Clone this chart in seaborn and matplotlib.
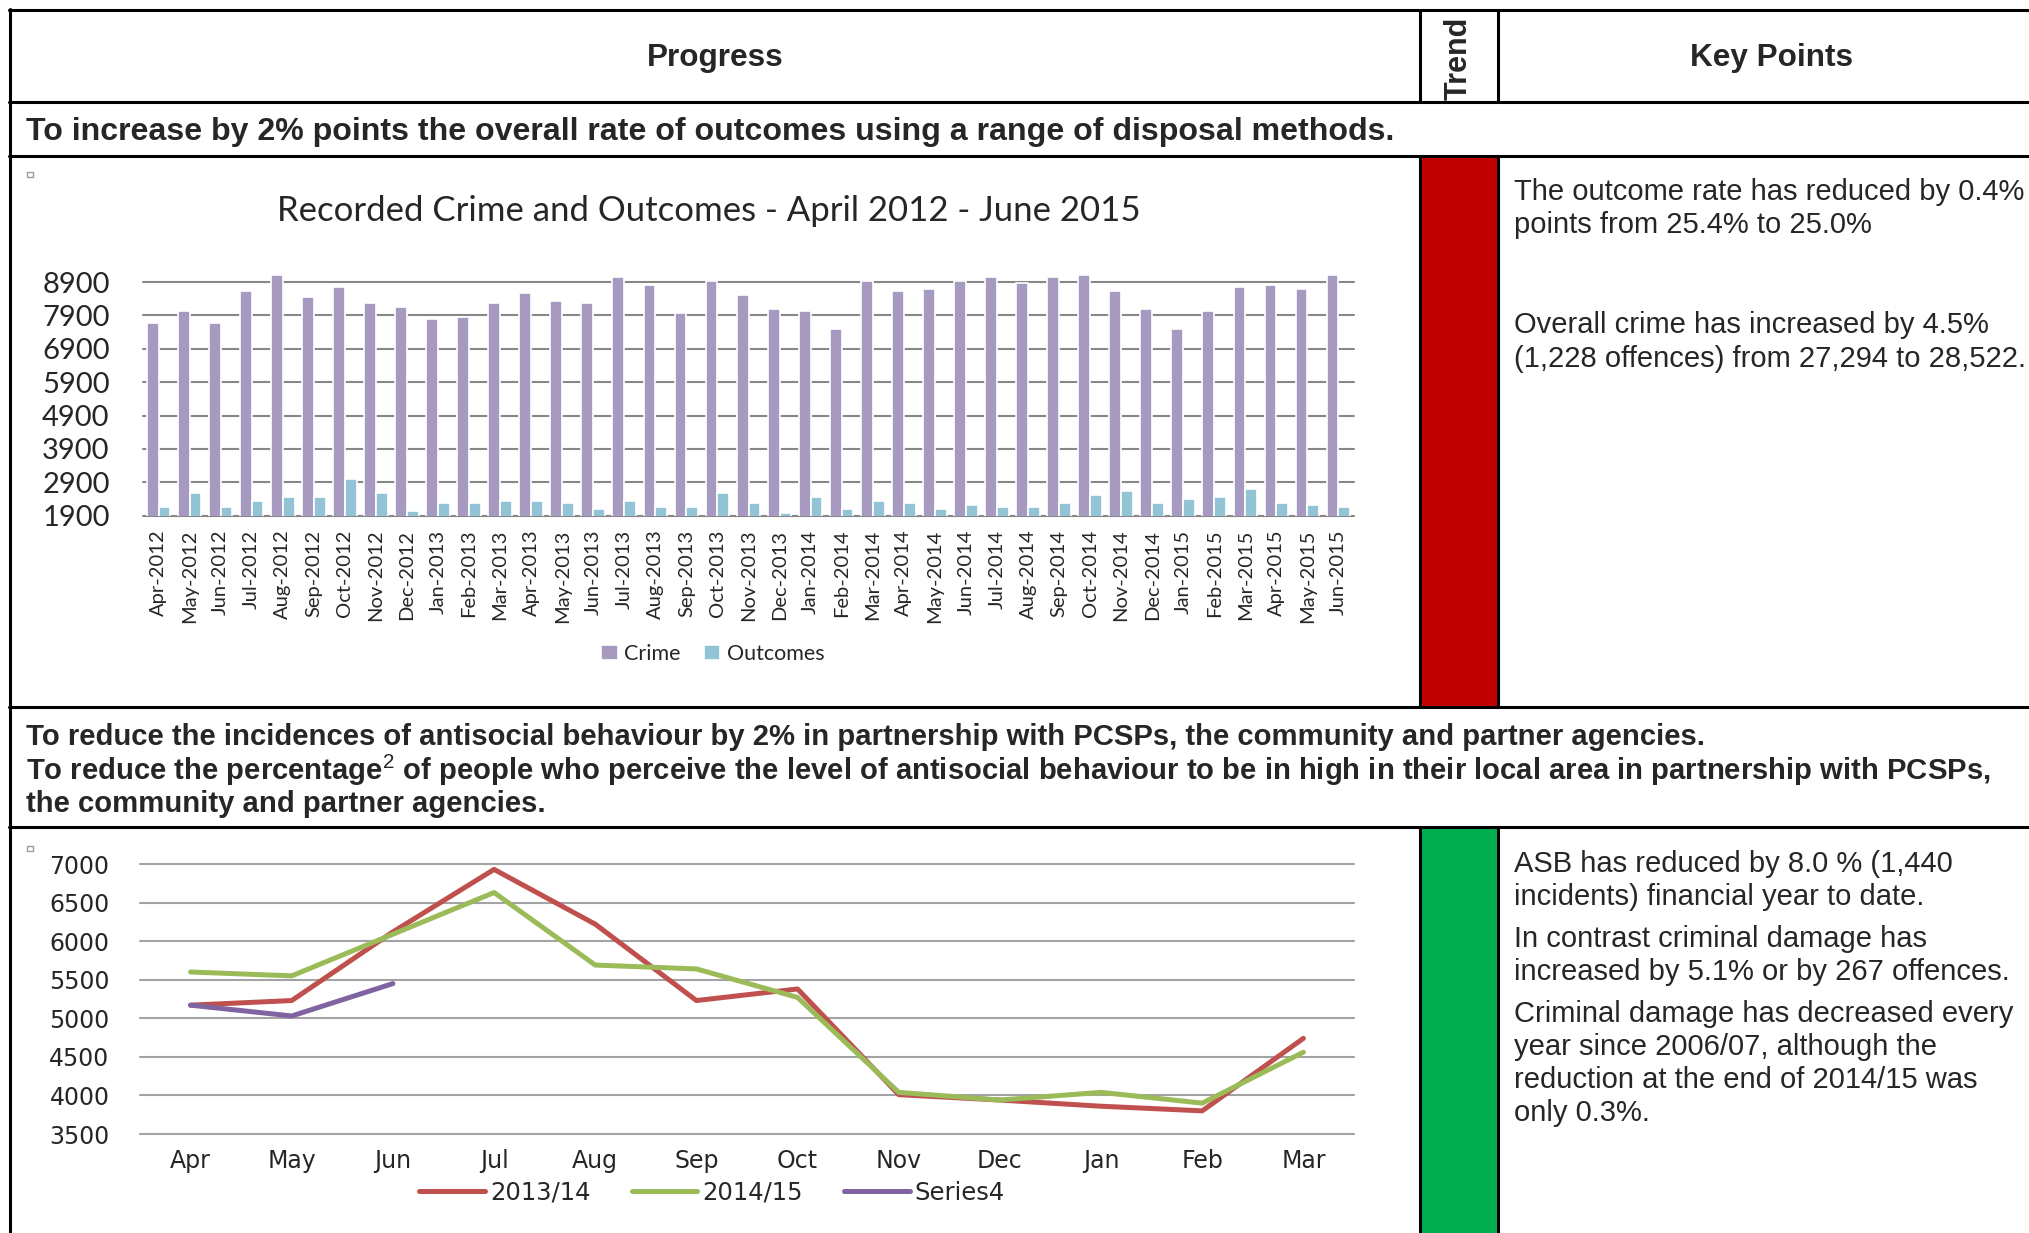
import numpy as np
import pandas as pd
import matplotlib
matplotlib.use('Agg')
import matplotlib.pyplot as plt
from matplotlib.lines import Line2D
from matplotlib.patches import Rectangle
import seaborn as sns

# --- data ------------------------------------------------------------------
months = ['Apr-2012', 'May-2012', 'Jun-2012', 'Jul-2012', 'Aug-2012', 'Sep-2012',
          'Oct-2012', 'Nov-2012', 'Dec-2012', 'Jan-2013', 'Feb-2013', 'Mar-2013',
          'Apr-2013', 'May-2013', 'Jun-2013', 'Jul-2013', 'Aug-2013', 'Sep-2013',
          'Oct-2013', 'Nov-2013', 'Dec-2013', 'Jan-2014', 'Feb-2014', 'Mar-2014',
          'Apr-2014', 'May-2014', 'Jun-2014', 'Jul-2014', 'Aug-2014', 'Sep-2014',
          'Oct-2014', 'Nov-2014', 'Dec-2014', 'Jan-2015', 'Feb-2015', 'Mar-2015',
          'Apr-2015', 'May-2015', 'Jun-2015']
crime = [7660, 8020, 7660, 8620, 9100, 8440, 8740, 8260, 8140, 7780, 7860, 8260,
         8560, 8320, 8260, 9040, 8800, 7960, 8920, 8500, 8080, 8020, 7480, 8920,
         8620, 8680, 8920, 9040, 8860, 9040, 9100, 8620, 8080, 7480, 8020, 8740,
         8800, 8680, 9100]
outcomes = [2170, 2590, 2170, 2350, 2470, 2470, 3010, 2590, 2050, 2290, 2290, 2350,
            2350, 2290, 2110, 2350, 2170, 2170, 2590, 2290, 1990, 2470, 2110, 2350,
            2290, 2110, 2230, 2170, 2170, 2290, 2530, 2650, 2290, 2410, 2470, 2710,
            2290, 2230, 2170]
bar_ticks = [1900, 2900, 3900, 4900, 5900, 6900, 7900, 8900]

fy_months = ['Apr', 'May', 'Jun', 'Jul', 'Aug', 'Sep', 'Oct', 'Nov', 'Dec',
             'Jan', 'Feb', 'Mar']
asb_1314 = [5170, 5230, 6120, 6930, 6220, 5230, 5380, 4010, 3940, 3860, 3800, 4740]
asb_1415 = [5600, 5550, 6090, 6630, 5690, 5640, 5270, 4040, 3940, 4040, 3900, 4560]
series4 = [5170, 5030, 5450]
line_ticks = [3500, 4000, 4500, 5000, 5500, 6000, 6500, 7000]

# --- layout helpers (pixel coords of a 2029x1233 page) ---------------------
W, H = 2029, 1233
sns.set_style('white')
plt.rcParams['font.family'] = ['Liberation Sans', 'DejaVu Sans']
plt.rcParams['mathtext.fontset'] = 'custom'
plt.rcParams['mathtext.rm'] = 'Liberation Sans'

fig = plt.figure(figsize=(W / 100, H / 100), dpi=100)


def px(x, y):
    return x / W, 1 - y / H


def rect(l, t, r, b):
    return [l / W, 1 - b / H, (r - l) / W, (b - t) / H]


def hline(y, x0, x1):
    fig.add_artist(Line2D([x0 / W, x1 / W], [1 - y / H, 1 - y / H], color='black', lw=2.2))


def vline(x, y0, y1):
    fig.add_artist(Line2D([x / W, x / W], [1 - y0 / H, 1 - y1 / H], color='black', lw=2.2))


# trend cells
fig.add_artist(Rectangle(px(1420, 707), 78 / W, 551 / H, color='#C00000', lw=0))
fig.add_artist(Rectangle(px(1420, 1233), 78 / W, 406 / H, color='#00B050', lw=0))

# table grid
for y in [10, 102, 156, 707, 827]:
    hline(y, 9, W + 5)
vline(10, 9, H + 5)
for x in [1419.5, 1498]:
    vline(x, 10, 102)
    vline(x, 156, 707)
    vline(x, 827, H + 5)

# headers
fig.text(*px(715, 58), 'Progress', ha='center', va='center', fontsize=22.7, fontweight='bold')
fig.text(*px(1459, 58), 'Trend', ha='center', va='center', rotation=90, fontsize=22,
         fontweight='bold')
fig.text(*px(1771, 58), 'Key Points', ha='center', va='center', fontsize=22.7, fontweight='bold')

# objectives
fig.text(*px(26, 132), 'To increase by 2% points the overall rate of outcomes using a range '
         'of disposal methods.', ha='left', va='center', fontsize=23.1, fontweight='bold')
obj_kw = dict(ha='left', va='center', fontsize=21.1, fontweight='bold')
fig.text(*px(26, 737), 'To reduce the incidences of antisocial behaviour by 2% in partnership '
         'with PCSPs, the community and partner agencies.', **obj_kw)
fig.text(*px(26, 770), r'To reduce the percentage$^{2}$ of people who perceive the level of '
         'antisocial behaviour to be in high in their local area in partnership with PCSPs,',
         **obj_kw)
fig.text(*px(26, 804), 'the community and partner agencies.', **obj_kw)

# key points
kp_kw = dict(ha='left', va='center', fontsize=21)
for y, line in [(192, 'The outcome rate has reduced by 0.4%'),
                (225, 'points from 25.4% to 25.0%'),
                (325, 'Overall crime has increased by 4.5%'),
                (359, '(1,228 offences) from 27,294 to 28,522.'),
                (864, 'ASB has reduced by 8.0 % (1,440'),
                (897, 'incidents) financial year to date.'),
                (939, 'In contrast criminal damage has'),
                (972, 'increased by 5.1% or by 267 offences.'),
                (1014, 'Criminal damage has decreased every'),
                (1047, 'year since 2006/07, although the'),
                (1080, 'reduction at the end of 2014/15 was'),
                (1113, 'only 0.3%.')]:
    fig.text(*px(1514, y), line, **kp_kw)

# small chart anchors
for y in [174, 848]:
    fig.add_artist(Rectangle(px(27, y + 3), 6 / W, 5 / H, fill=False, ec='#9A9A9A', lw=1))

# --- bar chart ---------------------------------------------------------------
bar_df = pd.DataFrame({
    'month': months * 2,
    'count': crime + outcomes,
    'series': ['Crime'] * len(months) + ['Outcomes'] * len(months),
})
ax1 = fig.add_axes(rect(143, 272, 1354, 515.7))
sns.barplot(data=bar_df, x='month', y='count', hue='series', order=months,
            hue_order=['Crime', 'Outcomes'], palette=['#A69AC0', '#92C4D5'],
            saturation=1, width=0.76, edgecolor='white', linewidth=1.2,
            errorbar=None, ax=ax1)
ax1.set_xlim(-0.5, len(months) - 0.5)
ax1.set_ylim(1900, 9200)
ax1.set_yticks(bar_ticks)
ax1.set_xlabel('')
ax1.set_ylabel('')
sns.despine(ax=ax1, left=True, bottom=True)
ax1.yaxis.grid(True, color='#878787', linewidth=1.5)
for gl in ax1.get_ygridlines():
    gl.set_clip_on(False)
ax1.set_axisbelow(True)
ax1.tick_params(axis='y', length=0, pad=24, labelsize=21)
ax1.tick_params(axis='x', length=0, pad=10, labelsize=14.5, labelrotation=90)
for lab in ax1.get_xticklabels() + ax1.get_yticklabels():
    lab.set_fontfamily('Lato')
ax1.legend(ncol=2, loc='center', bbox_to_anchor=px(713, 654),
           bbox_transform=fig.transFigure, frameon=False,
           prop={'family': 'Lato', 'size': 15.5}, handlelength=0.75, handleheight=0.75,
           handletextpad=0.3, columnspacing=1.1)
fig.text(*px(709, 211), 'Recorded Crime and Outcomes - April 2012 - June 2015',
         ha='center', va='center', fontsize=25, family='Lato')

# --- line chart --------------------------------------------------------------
line_df = pd.DataFrame({
    'month_idx': list(range(12)) + list(range(12)) + list(range(3)),
    'incidents': asb_1314 + asb_1415 + series4,
    'series': ['2013/14'] * 12 + ['2014/15'] * 12 + ['Series4'] * 3,
})
ax2 = fig.add_axes(rect(140, 864, 1354, 1134))
sns.lineplot(data=line_df, x='month_idx', y='incidents', hue='series',
             palette=['#C0504D', '#9BBB59', '#8064A2'], linewidth=3.6,
             estimator=None, sort=False, ax=ax2)
ax2.set_xlim(-0.5, 11.5)
ax2.set_ylim(3500, 7000)
ax2.set_xticks(range(12), fy_months)
ax2.set_yticks(line_ticks)
ax2.set_xlabel('')
ax2.set_ylabel('')
sns.despine(ax=ax2, left=True, bottom=True)
ax2.yaxis.grid(True, color='#A3A3A3', linewidth=1.5)
for gl in ax2.get_ygridlines():
    gl.set_clip_on(False)
ax2.set_axisbelow(True)
ax2.tick_params(axis='y', length=0, pad=22, labelsize=17)
ax2.tick_params(axis='x', length=0, pad=11, labelsize=17)
for lab in ax2.get_xticklabels() + ax2.get_yticklabels():
    lab.set_fontfamily('DejaVu Sans')
ax2.legend(ncol=3, loc='center', bbox_to_anchor=px(712, 1193),
           bbox_transform=fig.transFigure, frameon=False,
           prop={'family': 'DejaVu Sans', 'size': 17.5}, handlelength=2.7,
           handletextpad=0.2, columnspacing=1.7)

fig.savefig('out.png', dpi=100)
